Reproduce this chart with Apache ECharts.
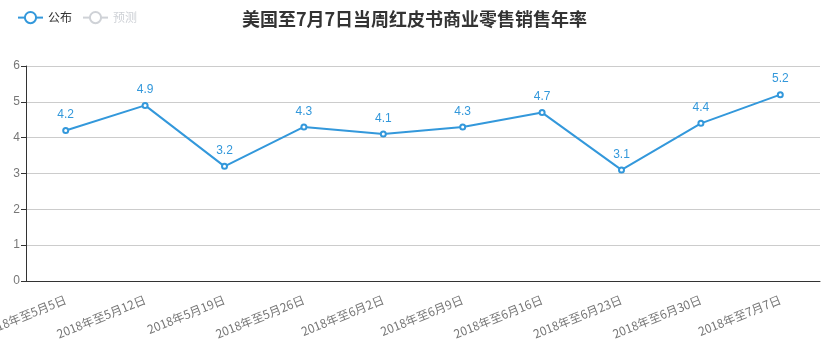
<!DOCTYPE html>
<html>
<head>
    <meta charset="utf-8">
    <title>美国红皮书商业零售销售年率</title>
    <script src="https://cdn.jsdelivr.net/npm/echarts@6/dist/echarts.min.js"></script>
    <style>
        html, body { margin: 0; padding: 0; background: #fff; }
        #chart1 { width: 829px; height: 352px; }
    </style>
</head>
<body>
    <div id="chart1"></div>
    <script>
        // 数据
        var weeks = ['2018年至5月5日', '2018年至5月12日', '2018年5月19日', '2018年至5月26日', '2018年至6月2日',
            '2018年至6月9日', '2018年至6月16日', '2018年至6月23日', '2018年至6月30日', '2018年至7月7日'];
        var published = [4.2, 4.9, 3.2, 4.3, 4.1, 4.3, 4.7, 3.1, 4.4, 5.2];
        var forecast = [];
        var yTicks = [0, 1, 2, 3, 4, 5, 6];

        var myChart1 = echarts.init(document.getElementById('chart1'));
        myChart1.setOption({
            animation: false,
            title: {
                text: '美国至7月7日当周红皮书商业零售销售年率',
                left: 'center',
                top: 5,
                textStyle: { fontSize: 18, fontWeight: 'bold', color: '#333', fontFamily: 'Noto Sans CJK SC' }
            },
            legend: {
                left: 12,
                top: 6,
                itemWidth: 25,
                itemHeight: 14,
                itemGap: 10,
                textStyle: { color: '#333', fontSize: 12, fontFamily: 'Noto Sans CJK SC' },
                data: ['公布', '预测'],
                selected: { '公布': true, '预测': false }
            },
            grid: { left: 26, right: 9, top: 66, bottom: 71, containLabel: false, outerBoundsMode: 'none' },
            xAxis: {
                type: 'category',
                data: weeks,
                axisLine: { lineStyle: { color: '#333' } },
                axisTick: { lineStyle: { color: '#333' } },
                axisLabel: { rotate: 22, interval: 0, color: '#777', fontSize: 12, fontFamily: 'Noto Sans CJK SC', margin: 18 }
            },
            yAxis: {
                type: 'value',
                min: yTicks[0],
                max: yTicks[yTicks.length - 1],
                interval: 1,
                axisLine: { show: true, lineStyle: { color: '#333' } },
                axisTick: { show: true, lineStyle: { color: '#333' } },
                axisLabel: { color: '#777', fontSize: 12, margin: 6 },
                splitLine: { lineStyle: { color: '#ccc' } }
            },
            series: [{
                name: '公布',
                type: 'line',
                data: published,
                symbol: 'emptyCircle',
                symbolSize: 5,
                itemStyle: { color: '#3398DB' },
                lineStyle: { width: 2, color: '#3398DB' },
                label: { show: true, position: 'top', color: '#3398DB', fontSize: 12, distance: 6 }
            }, {
                name: '预测',
                type: 'line',
                data: forecast,
                symbol: 'emptyCircle',
                symbolSize: 5,
                itemStyle: { color: '#f0a030' }
            }]
        });
    </script>
</body>
</html>
